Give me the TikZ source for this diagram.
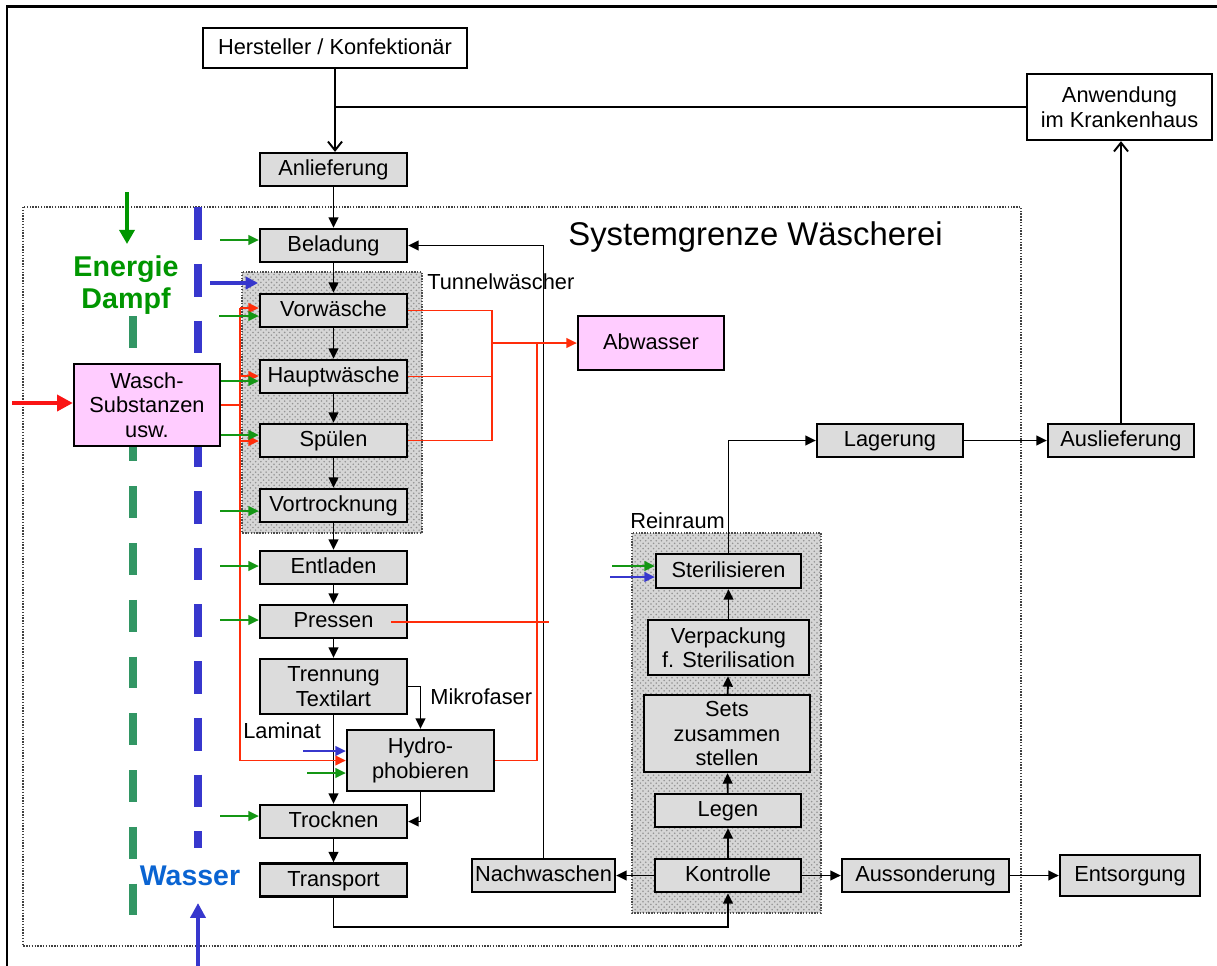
\documentclass[tikz,border=0pt]{standalone}
\usepackage{fontspec}
\setmainfont{Liberation Sans}
\usetikzlibrary{arrows.meta,patterns,calc}
\definecolor{boxgray}{RGB}{220,220,220}
\definecolor{pinkc}{RGB}{255,204,255}
\definecolor{redl}{RGB}{255,45,10}
\definecolor{redthick}{RGB}{250,20,20}
\definecolor{greenl}{RGB}{20,150,20}
\definecolor{egreen}{RGB}{0,150,0}
\definecolor{dgreen}{RGB}{50,150,100}
\definecolor{bluel}{RGB}{55,55,205}
\definecolor{wblue}{RGB}{10,100,210}
\newcommand{\fs}{\fontsize{12.4}{14}\selectfont}
\tikzset{
  base/.style={draw, line width=1.3pt, inner sep=0pt, align=center, font=\fs,
    minimum width=2.94cm, minimum height=0.66cm},
  sl/.style={text height=0.93em, text depth=0.21em},
  pbox/.style={base, fill=boxgray},
  wbox/.style={base, fill=white},
  kbox/.style={base, fill=pinkc},
  lbl/.style={inner sep=0pt, font=\fs},
  arr/.style={line width=1.1pt, -{Triangle[length=6pt,width=5.5pt]}},
  openarr/.style={line width=1.1pt, -{Straight Barb[length=5pt,width=8pt]}},
  conn/.style={line width=1.1pt},
  rl/.style={redl, line width=1.1pt},
  ra/.style={redl, line width=1.1pt, -{Triangle[length=6pt,width=5.5pt]}},
  ga/.style={greenl, line width=1.1pt, -{Triangle[length=6pt,width=5.5pt]}},
  ba/.style={bluel, line width=1.1pt, -{Triangle[length=6pt,width=5.5pt]}},
  hatch/.style={draw=black!70, dash pattern=on 0.8pt off 0.8pt, line width=1pt,
    preaction={fill=gray!32}, pattern=crosshatch dots, pattern color=gray!85},
  sysb/.style={draw=black!75, dash pattern=on 0.8pt off 0.8pt, line width=1pt},
}
\begin{document}
\begin{tikzpicture}[x=0.02cm,y=-0.02cm]
\useasboundingbox (0,0) rectangle (1217,965);
\clip (0,0) rectangle (1217,965);
\fill[white] (0,0) rectangle (1217,965);
% outer frame
\draw[line width=1.7pt] (7,1000) -- (7,6) -- (1250,6);
% system boundary
\draw[sysb] (23,207) rectangle (1021,946);
% hatched regions
\path[hatch] (242,272) rectangle (422,533);
\path[hatch] (632,533) rectangle (821,913);
% dashed supply lines
\draw[dgreen, line width=4pt, dash pattern=on 18.1pt off 14.2pt] (133,316) -- (133,918);
\draw[bluel, line width=4.5pt, dash pattern=on 18.7pt off 13.6pt] (198,207) -- (198,848);
% labels
\node[lbl, anchor=west, font=\fontsize{18.7}{22}\selectfont] (sg) at (568,237) {Systemgrenze Wäscherei};
\node[lbl, anchor=west] (tw) at (427,282) {Tunnelwäscher};
\node[lbl, anchor=west] (rr) at (630,521) {Reinraum};
\node[lbl, anchor=west] (mf) at (430,697) {Mikrofaser};
\node[lbl, anchor=west] (lam) at (243,731) {Laminat};
\node[inner sep=0pt, align=center, text=egreen, font=\fontsize{16.3}{18.2}\selectfont\bfseries] (en) at (126,285) {Energie\\Dampf};
\node[inner sep=0pt, text=wblue, font=\fontsize{16.2}{18}\selectfont\bfseries] (wa) at (190,876) {Wasser};
% nodes
\node[wbox, sl, minimum width=5.28cm, minimum height=0.8cm] (herst) at (335,48) {Hersteller / Konfektionär};
\node[wbox, minimum width=3.7cm, minimum height=1.32cm] (anw) at (1119.5,107) {Anwendung\\im Krankenhaus};
\node[pbox, sl] (anl) at (333.5,169.5) {Anlieferung};
\node[pbox, sl] (bel) at (333.5,245.5) {Beladung};
\node[pbox, sl] (vor) at (333.5,310.5) {Vorwäsche};
\node[pbox, sl] (haupt) at (333.5,376.5) {Hauptwäsche};
\node[pbox, sl] (spuel) at (333.5,440.5) {Spülen};
\node[pbox, sl] (vtr) at (333.5,505.5) {Vortrocknung};
\node[pbox, sl] (entl) at (333.5,567.5) {Entladen};
\node[pbox, sl] (press) at (333.5,621.5) {Pressen};
\node[pbox, minimum height=1.1cm] (trenn) at (333.5,686.5) {Trennung\\Textilart};
\node[pbox, minimum height=1.22cm] (hydro) at (420.5,760.5) {Hydro-\\phobieren};
\node[pbox, sl] (trock) at (333.5,821.5) {Trocknen};
\node[pbox, sl] (transp) at (333.5,880) {Transport};
\node[kbox, sl, minimum width=2.92cm, minimum height=1.08cm] (abw) at (651,343) {Abwasser};
\node[kbox, minimum width=2.92cm, minimum height=1.64cm] (wasch) at (147,405) {Wasch-\\Substanzen\\usw.};
\node[pbox, sl, minimum width=2.92cm] (lager) at (890,440.5) {Lagerung};
\node[pbox, sl, minimum width=2.92cm] (ausl) at (1121,440.5) {Auslieferung};
\node[pbox, sl, minimum width=2.9cm, minimum height=0.68cm] (steril) at (728.5,571) {Sterilisieren};
\node[pbox, minimum width=3.22cm, minimum height=1.1cm] (verp) at (728.5,647.5) {Verpackung\\f. Sterilisation};
\node[pbox, minimum width=3.32cm, minimum height=1.54cm] (sets) at (727,733.5) {Sets\\zusammen\\stellen};
\node[pbox, sl, minimum width=2.92cm] (legen) at (728,810.5) {Legen};
\node[pbox, sl, minimum width=2.92cm] (kontr) at (728,875.5) {Kontrolle};
\node[pbox, sl, minimum width=2.86cm] (nachw) at (543.5,875.5) {Nachwaschen};
\node[pbox, sl, minimum width=3.34cm] (auss) at (925.5,875.5) {Aussonderung};
\node[pbox, sl, minimum width=2.8cm, minimum height=0.82cm] (ents) at (1130,875.5) {Entsorgung};
% black connectors
\draw[openarr] (herst.south) -- (herst.south |- anl.north);
\draw[conn] (anw.west) -- (anw.west -| herst.south);
\draw[openarr] (ausl.north) -- (ausl.north |- anw.south);
\draw[arr] (anl) -- (bel);
\draw[arr] (bel) -- (vor);
\draw[arr] (vor) -- (haupt);
\draw[arr] (haupt) -- (spuel);
\draw[arr] (spuel) -- (vtr);
\draw[arr] (vtr) -- (entl);
\draw[arr] (entl) -- (press);
\draw[arr] (press) -- (trenn);
\draw[arr] (trenn) -- (trock);
\draw[arr] (trenn.east) -| (hydro.north);
\draw[arr] (hydro.south) |- (trock.east);
\draw[arr] (trock) -- (transp);
\coordinate (tk) at (333.5,927);
\draw[arr] (transp.south) -- (tk) -| (kontr.south);
\draw[arr] (kontr) -- (legen);
\draw[arr] (legen) -- (sets);
\draw[arr] (sets) -- (verp);
\draw[arr] (verp) -- (steril);
\draw[arr] (steril.north) |- (lager.west);
\draw[arr] (lager) -- (ausl);
\draw[arr] (kontr) -- (nachw);
\draw[arr] (nachw.north) |- (bel.east);
\draw[arr] (kontr) -- (auss);
\draw[arr] (auss) -- (ents);
% red waste water
\coordinate (rj) at (492,343);
\coordinate (rk) at (537,343);
\coordinate (pstart) at (391,622);
\coordinate (pend) at (549,622);
\draw[rl] (vor.east) -| (rj);
\draw[rl] (haupt.east) -| (rj);
\draw[rl] (spuel.east) -| (rj);
\draw[ra] (rj) -- (abw.west);
\draw[rl] (hydro.east) -| (rk);
\draw[rl] (pstart) -- (pend);
% red supply from Wasch-Substanzen
\coordinate (rt) at (240,308);
\coordinate (rm) at (240,405);
\coordinate (rb) at (240,760.5);
\draw[rl] (wasch.east) -- (rm);
\draw[rl] (rt) -- (rb);
\draw[ra] (rt) -- (vor.west |- rt);
\draw[ra] (240,376) -- (haupt.west |- 0,376);
\draw[ra] (240,441) -- (spuel.west |- 0,441);
\draw[ra] (rb) -- (hydro.west |- rb);
% green energy arrows
\draw[ga] (220,240) -- (bel.west |- 0,240);
\draw[ga] (219,316) -- (vor.west |- 0,316);
\draw[ga] (wasch.east |- 0,381) -- (haupt.west |- 0,381);
\draw[ga] (wasch.east |- 0,435) -- (spuel.west |- 0,435);
\draw[ga] (220,511) -- (vtr.west |- 0,511);
\draw[ga] (220,566) -- (entl.west |- 0,566);
\draw[ga] (220,620) -- (press.west |- 0,620);
\draw[ga] (220,816) -- (trock.west |- 0,816);
\draw[ga] (307,773) -- (hydro.west |- 0,773);
\draw[ba] (303,751) -- (hydro.west |- 0,751);
\draw[ga] (612,566) -- (steril.west |- 0,566);
\draw[ba] (610,577) -- (steril.west |- 0,577);
% thick inputs
\draw[redthick, line width=2.6pt, -{Triangle[length=9pt,width=9pt]}] (12,403) -- (wasch.west |- 0,403);
\draw[egreen, line width=2.3pt, -{Triangle[length=8pt,width=8.5pt]}] (127,192) -- (127,244);
\draw[bluel, line width=2.2pt, -{Triangle[length=7pt,width=7pt]}] (210,283) -- (258,283);
\draw[bluel, line width=2.6pt, -{Triangle[length=8.5pt,width=8.5pt]}] (198,970) -- (198,903);
\end{tikzpicture}
\end{document}
